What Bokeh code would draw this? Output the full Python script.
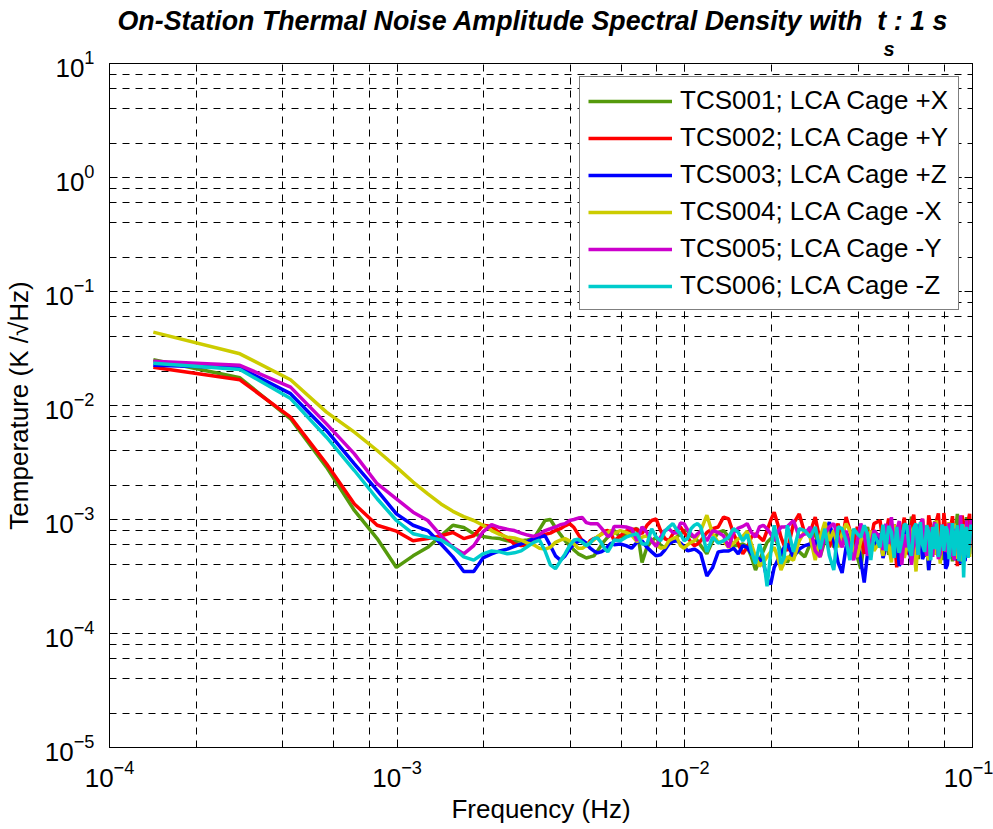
from bokeh.plotting import figure
from bokeh.models import (Legend, LegendItem, LogAxis, ColumnDataSource,
                          Range1d, LogTicker, Title)
from bokeh.embed import file_html
from bokeh.resources import INLINE

FONT = "Liberation Sans"

# ---------------- data ----------------
# frequency bin width of the amplitude spectral density (Hz)
df_hz = 1.42e-4
# FFT bin indices that are plotted (frequency = bin * df_hz)
freq_bin = [1, 2, 3, 4, 5, 6, 7, 8, 9, 10, 11, 12, 13, 14, 15, 16, 17, 18, 19, 20,
            21, 22, 23, 24, 25, 26, 27, 28, 29, 30, 31, 32, 33, 34, 35, 36, 37, 38, 39, 40,
            42, 44, 46, 48, 50, 52, 54, 56, 58, 60, 62, 64, 66, 68, 70, 72, 74, 76, 78, 80,
            84, 88, 92, 96, 100, 104, 108, 112, 116, 120, 124, 128, 132, 136, 140, 144, 148, 152, 156, 160,
            168, 176, 184, 192, 200, 208, 216, 224, 232, 240, 248, 256, 264, 272, 280, 288, 296, 304, 312, 320,
            336, 344, 352, 360, 368, 376, 384, 392, 400, 408, 416, 424, 432, 440, 448, 456, 464, 472, 480, 488,
            496, 504, 512, 520, 528, 536, 544, 552, 560, 568, 576, 584, 592, 600, 608, 616, 624, 632, 640, 648,
            656, 664, 672, 680, 688, 696, 704]

# amplitude spectral densities, in units of 1e-4 K/sqrt(Hz)
asd_unit = 1e-4
tcs001 = [252, 175, 76.4, 28.8, 12.0, 6.8, 3.8, 4.8, 5.7, 7.2, 8.9, 8.5, 7.5, 7.1, 6.9,
          6.8, 6.5, 6.4, 6.5, 6.6, 6.8, 8.2, 9.8, 10.0, 8.5, 7.4, 6.5, 5.9, 5.4, 5.0, 4.8, 4.6, 4.7, 4.8, 5.3, 5.9, 6.5, 7.0, 7.4, 8.0,
          7.0, 7.3, 7.8, 8.4, 4.2, 5.7, 6.5, 7.0, 5.9, 5.7, 6.1, 6.5, 7.0, 7.5, 8.0, 8.0, 7.2, 7.0, 6.5, 5.9,
          5.0, 6.5, 7.7, 8.0, 7.0, 5.9, 5.9, 6.1, 5.8, 4.7, 3.6, 4.4, 5.3, 6.3, 6.8, 7.0, 6.1, 5.3, 4.7, 4.2,
          5.5, 5.2, 4.7, 6.1, 8.0, 4.7, 6.5, 8.6, 5.7, 7.0, 8.0, 6.1, 5.3, 7.5, 4.7, 3.7, 6.5, 8.6, 6.1, 7.5,
          5.7, 7.9, 8.6, 4.9, 6.5, 9.0, 8.0, 4.6, 5.3, 8.2, 7.0, 5.0, 10.6, 7.6, 6.5, 4.5, 8.0, 9.2, 5.3, 6.9,
          3.6, 5.8, 6.5, 9.6, 8.6, 4.8, 5.7, 8.1, 4.4, 6.0, 7.0, 9.4, 8.0, 4.3, 5.3, 8.4, 11.2, 5.1, 6.1, 9.0,
          7.5, 4.6, 10.5, 6.8, 5.7, 9.1, 7.5]
tcs002 = [217, 168, 79, 30.8, 13.7, 8.9, 7.9, 6.5, 6.8, 7.2, 7.7, 6.8, 7.2, 8.9, 8.7,
          7.6, 6.8, 6.1, 5.9, 6.0, 6.5, 7.0, 7.4, 7.6, 8.0, 8.3, 8.8, 9.2, 8.5, 7.4, 6.5, 5.8, 6.5, 6.8, 7.0, 7.4, 7.9, 8.0, 7.6, 6.5,
          7.2, 7.9, 8.2, 8.2, 7.5, 8.9, 9.8, 10.1, 8.0, 6.8, 6.5, 7.5, 8.1, 8.6, 7.7, 7.0, 6.3, 5.9, 6.1, 6.5,
          7.7, 8.3, 8.6, 10.5, 10.1, 7.5, 6.1, 5.0, 5.7, 7.0, 7.5, 7.0, 6.5, 8.0, 9.8, 11.6, 9.2, 7.0, 5.9, 5.3,
          9.2, 11.2, 7.5, 7.7, 10.5, 6.5, 8.6, 5.7, 7.5, 9.2, 6.5, 10.5, 8.0, 6.1, 8.6, 7.0, 5.0, 8.0, 6.5, 9.2,
          9.8, 6.2, 7.5, 10.2, 5.3, 7.6, 3.8, 6.4, 8.0, 10.4, 6.1, 4.9, 9.2, 11.0, 7.0, 5.2, 8.6, 10.1, 6.5, 4.7,
          10.9, 8.8, 7.5, 5.6, 9.8, 11.3, 6.1, 5.0, 11.4, 8.2, 7.0, 4.6, 8.6, 10.7, 5.7, 7.8, 3.9, 6.3, 7.5, 10.8,
          9.2, 5.2, 6.1, 9.6, 11.2, 5.9, 8.0]
tcs003 = [225, 214, 127, 60.4, 30.8, 18.0, 11.2, 8.9, 8.0, 6.1, 4.7, 3.5, 3.5, 4.6, 5.0,
          5.3, 5.5, 5.8, 6.1, 6.4, 6.8, 7.0, 7.2, 5.9, 4.8, 4.4, 4.8, 5.5, 6.1, 6.4, 6.6, 6.2, 5.6, 5.3, 5.1, 5.2, 5.4, 5.8, 6.2, 6.0,
          6.1, 5.9, 5.6, 6.3, 6.5, 5.7, 5.2, 4.8, 4.9, 5.4, 6.1, 6.4, 6.5, 6.2, 5.8, 5.3, 5.4, 5.5, 5.3, 5.0,
          3.2, 3.8, 5.2, 5.3, 5.3, 5.6, 5.0, 5.9, 5.7, 5.0, 4.7, 4.5, 4.2, 3.0, 2.7, 3.8, 4.4, 5.0, 5.7, 6.1,
          4.7, 5.5, 5.9, 6.1, 6.5, 5.3, 7.0, 9.5, 6.5, 4.2, 3.4, 5.7, 7.5, 5.0, 6.5, 4.4, 2.8, 5.0, 7.0, 5.7,
          7.5, 4.6, 5.7, 8.1, 9.2, 5.0, 6.5, 3.9, 4.7, 8.3, 7.0, 5.4, 4.2, 7.3, 6.1, 9.0, 8.0, 4.5, 5.0, 7.2,
          3.6, 5.6, 6.5, 9.1, 8.6, 4.8, 5.7, 7.9, 7.0, 3.7, 4.0, 6.0, 7.5, 8.8, 5.3, 4.4, 8.6, 6.2, 4.1, 7.4,
          6.5, 4.3, 8.0, 5.6, 5.0, 8.5, 7.0]
tcs004 = [440, 284, 168, 87.5, 58.4, 40.3, 28.8, 21.3, 16.8, 13.7, 11.8, 10.6, 9.8, 8.9, 8.0,
          7.4, 7.0, 6.9, 6.6, 6.2, 6.0, 5.6, 5.5, 5.7, 6.3, 6.6, 6.8, 6.5, 6.1, 5.6, 5.6, 5.9, 6.3, 6.6, 7.1, 7.4, 7.6, 7.7, 8.0, 7.5,
          8.0, 7.7, 7.3, 6.4, 7.0, 7.2, 6.5, 6.0, 5.6, 5.7, 6.5, 6.8, 7.0, 5.9, 5.6, 6.0, 6.3, 6.5, 7.2, 8.0,
          10.9, 7.5, 6.3, 6.5, 5.7, 6.2, 6.8, 7.1, 7.9, 6.1, 4.7, 3.9, 4.2, 4.7, 5.2, 5.7, 4.7, 3.6, 4.2, 4.7,
          4.4, 6.5, 8.0, 7.0, 4.4, 7.0, 9.5, 6.5, 8.0, 5.7, 7.5, 9.2, 8.0, 5.3, 4.7, 6.5, 7.5, 5.7, 8.0, 5.3,
          6.5, 4.8, 8.6, 6.0, 4.2, 9.0, 7.0, 5.1, 8.0, 4.6, 5.7, 8.8, 7.5, 5.9, 3.5, 7.1, 6.1, 9.3, 8.6, 5.0,
          4.4, 7.7, 6.5, 4.9, 9.8, 6.2, 4.1, 8.1, 7.0, 5.2, 8.0, 9.4, 5.3, 6.6, 9.2, 4.5, 6.1, 8.7, 7.5, 4.3,
          5.0, 9.0, 8.6, 5.8, 4.7, 7.8, 6.5]
tcs005 = [245, 225, 145, 69, 37.6, 20.6, 15.2, 11.6, 9.8, 7.2, 5.7, 5.0, 5.9, 7.8, 9.0,
          8.5, 8.2, 8.0, 7.6, 7.3, 7.1, 7.4, 8.0, 8.3, 8.6, 9.0, 9.2, 9.8, 10.0, 10.3, 10.4, 9.4, 9.2, 9.2, 9.2, 8.5, 7.8, 7.1, 7.3, 8.7,
          8.7, 8.6, 8.3, 6.5, 8.6, 7.7, 6.5, 5.8, 7.0, 8.0, 8.3, 7.7, 7.6, 9.3, 9.2, 8.1, 7.5, 7.0, 7.5, 7.9,
          6.5, 8.0, 7.7, 7.2, 5.7, 7.7, 8.4, 8.7, 9.2, 7.7, 7.0, 8.6, 8.9, 8.3, 7.5, 6.5, 7.7, 8.6, 8.6, 8.7,
          9.8, 7.0, 7.5, 8.6, 5.3, 4.7, 7.5, 8.6, 9.2, 7.0, 5.7, 8.0, 5.3, 4.4, 6.5, 9.2, 7.5, 4.8, 6.1, 8.0,
          7.0, 5.4, 9.2, 6.1, 10.5, 5.9, 8.0, 9.7, 4.0, 7.4, 5.7, 8.9, 4.0, 6.3, 7.5, 4.9, 9.2, 10.1, 6.5, 4.8,
          8.6, 6.8, 4.7, 9.5, 7.0, 4.5, 5.0, 9.0, 8.0, 5.2, 6.1, 9.3, 4.7, 7.6, 4.4, 8.3, 7.0, 5.5, 10.9, 6.0,
          7.5, 4.9, 9.8, 6.7, 5.7, 9.9, 8.6]
tcs006 = [235, 207, 115, 52.7, 26.9, 15.2, 9.8, 7.5, 7.0, 6.6, 5.7, 4.7, 4.4, 5.0, 5.3,
          5.2, 5.0, 5.1, 5.3, 5.8, 6.3, 6.6, 5.3, 4.0, 3.7, 4.3, 5.0, 5.9, 6.6, 6.7, 6.3, 5.9, 6.2, 6.8, 6.9, 6.3, 5.6, 5.2, 5.8, 6.6,
          6.5, 7.0, 7.3, 7.5, 6.1, 6.1, 8.3, 7.0, 6.5, 7.9, 8.6, 9.2, 8.1, 7.5, 6.5, 6.8, 8.3, 8.9, 9.2, 8.6,
          5.2, 7.0, 6.2, 6.5, 7.0, 8.3, 7.7, 6.5, 7.4, 5.3, 4.1, 6.1, 4.7, 2.6, 5.0, 8.9, 6.5, 4.1, 4.7, 8.9,
          5.2, 8.3, 8.0, 7.0, 8.6, 5.5, 8.3, 4.8, 3.6, 8.6, 8.3, 6.5, 4.4, 8.3, 7.5, 7.0, 8.9, 7.5, 4.4, 7.5,
          5.7, 9.0, 5.3, 8.8, 7.7, 4.6, 8.6, 5.1, 6.5, 9.1, 8.9, 5.6, 4.8, 8.4, 9.2, 4.9, 9.5, 6.0, 5.2, 8.9,
          7.7, 4.4, 8.6, 5.5, 9.2, 4.7, 6.1, 9.0, 5.3, 8.7, 8.0, 4.5, 6.5, 9.3, 4.8, 7.2, 8.9, 4.3, 7.0, 9.1,
          3.1, 7.9, 8.6, 4.6, 6.5, 9.0, 7.5]

series_names = ["TCS001; LCA Cage +X", "TCS002; LCA Cage +Y", "TCS003; LCA Cage +Z",
                "TCS004; LCA Cage -X", "TCS005; LCA Cage -Y", "TCS006; LCA Cage -Z"]
series_data = [tcs001, tcs002, tcs003, tcs004, tcs005, tcs006]
series_colors = ["#559A0C", "#FF0000", "#0000FF", "#CCCC00", "#CC00CC", "#00CCCC"]

NBSP = "\u00a0"
title_main = "On-Station Thermal Noise Amplitude Spectral Density with" + NBSP * 2 + "t"
title_sub = "s"
title_tail = ": 1 s"
x_label = "Frequency (Hz)"
y_label = "Temperature (K /\u221aHz)"

# ---------------- figure ----------------
p = figure(width=993, height=829, x_axis_type="log", y_axis_type="log",
           x_range=Range1d(1e-4, 1e-1), y_range=Range1d(1e-5, 1e1),
           output_backend="svg", toolbar_location=None,
           min_border_left=104, min_border_right=21, min_border_top=63, min_border_bottom=82)
p.background_fill_color = "white"
p.border_fill_color = "white"
p.outline_line_color = "black"
p.outline_line_width = 1

p.yaxis.ticker = LogTicker(desired_num_ticks=8)
p.xaxis.ticker = LogTicker(desired_num_ticks=4)

for ax in (p.xaxis, p.yaxis):
    ax.axis_line_color = "black"
    ax.major_tick_in = 8
    ax.major_tick_out = 0
    ax.minor_tick_in = 4
    ax.minor_tick_out = 0
    ax.major_tick_line_color = "black"
    ax.minor_tick_line_color = "black"
    ax.major_label_text_font = FONT
    ax.major_label_text_font_size = "26px"
    ax.major_label_text_color = "black"
    ax.axis_label_text_font = FONT
    ax.axis_label_text_font_size = "26px"
    ax.axis_label_text_font_style = "normal"
    ax.axis_label_text_color = "black"

p.xaxis.major_label_standoff = 12
p.yaxis.major_label_standoff = 15
p.xaxis.axis_label = x_label
p.yaxis.axis_label = y_label
p.xaxis.axis_label_standoff = 4
p.yaxis.axis_label_standoff = 8

# box ticks on the right edge (no labels)
right_ax = LogAxis(ticker=LogTicker(desired_num_ticks=8))
right_ax.major_tick_in = 8
right_ax.major_tick_out = 0
right_ax.minor_tick_in = 4
right_ax.minor_tick_out = 0
right_ax.major_label_text_color = None
right_ax.major_label_text_font_size = "1px"
right_ax.major_label_standoff = 0
right_ax.axis_line_color = "black"
p.add_layout(right_ax, "right")

for g in (p.xgrid, p.ygrid):
    g.grid_line_color = "black"
    g.grid_line_width = 1
    g.grid_line_dash = "7 6"
    g.minor_grid_line_color = "black"
    g.minor_grid_line_width = 1
    g.minor_grid_line_dash = "7 6"

freq_hz = [b * df_hz for b in freq_bin]
src = ColumnDataSource({"f": freq_hz, **{f"s{i}": [v * asd_unit for v in d]
                                        for i, d in enumerate(series_data)}})

items = []
for i, (name, color) in enumerate(zip(series_names, series_colors)):
    r = p.line("f", f"s{i}", source=src, line_color=color, line_width=3.5)
    items.append(LegendItem(label=name, renderers=[r]))

legend = Legend(items=items, location="top_right", margin=13, padding=8,
                glyph_width=84, glyph_height=28, label_height=28, label_width=270, spacing=6,
                label_standoff=8, label_text_font=FONT, label_text_font_size="26px",
                label_text_color="black", border_line_color="black", border_line_width=1,
                background_fill_color="white", background_fill_alpha=1)
p.add_layout(legend)

# title: a thin spacer row, the main line, and the subscript "s" as the row just below it
sub_title = Title(text=title_sub, align="left", offset=774, standoff=7,
                  text_font=FONT, text_font_style="bold italic", text_font_size="20px",
                  text_color="black")
main_title = Title(text=title_main + NBSP + title_tail, align="left", offset=8, standoff=0,
                   text_font=FONT, text_font_style="bold italic", text_font_size="26.8px",
                   text_color="black")
spacer = Title(text=NBSP, text_font_size="3.2px", standoff=0)
try:
    # let the subscript row tuck up under the main line
    main_title.standoff = -6
except Exception:
    sub_title.text_font_size = "16px"
    spacer.text_font_size = "1px"
    sub_title.standoff = 0
p.add_layout(sub_title, "above")
p.add_layout(main_title, "above")
p.add_layout(spacer, "above")

open("out.html", "w").write(file_html(p, INLINE))
